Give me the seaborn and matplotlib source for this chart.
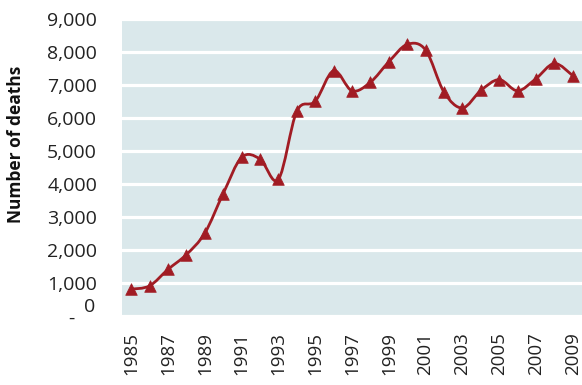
import matplotlib
matplotlib.use("Agg")
import matplotlib.pyplot as plt
from matplotlib.path import Path
from matplotlib.patches import PathPatch
import seaborn as sns
import pandas as pd

# Annual number of deaths, 1985-2009
years = list(range(1985, 2010))
deaths = [800, 900, 1400, 1850, 2500, 3700, 4800, 4750, 4130, 6200,
          6500, 7430, 6820, 7080, 7700, 8230, 8060, 6780, 6300, 6830,
          7160, 6820, 7190, 7650, 7280]
y_ticks = [0, 1000, 2000, 3000, 4000, 5000, 6000, 7000, 8000, 9000]
x_ticks = years[::2]

LINE_RED = "#A11C24"
PANEL_BG = "#DAE8EB"

sns.set_theme(style="white")
plt.rcParams["font.family"] = ["Open Sans", "DejaVu Sans"]

df = pd.DataFrame({"year": years, "deaths": deaths})

W, H = 582, 385
fig = plt.figure(figsize=(W / 100, H / 100), dpi=100)
ax = fig.add_axes([122 / W, 1 - 315.5 / H, 460 / W, (315.5 - 19) / H])
ax.set_facecolor(PANEL_BG)

# Smoothed connecting line: cubic Bezier segments (Catmull-Rom style)
xs, ys = df["year"].tolist(), df["deaths"].tolist()
n = len(xs)
verts = [(xs[0], ys[0])]
codes = [Path.MOVETO]
for i in range(n - 1):
    x0, y0 = (xs[i - 1], ys[i - 1]) if i > 0 else (xs[i], ys[i])
    x1, y1 = xs[i], ys[i]
    x2, y2 = xs[i + 1], ys[i + 1]
    x3, y3 = (xs[i + 2], ys[i + 2]) if i + 2 < n else (x2, y2)
    c1 = (x1 + (x2 - x0) / 6, y1 + (y2 - y0) / 6)
    c2 = (x2 - (x3 - x1) / 6, y2 - (y3 - y1) / 6)
    verts += [c1, c2, (x2, y2)]
    codes += [Path.CURVE4] * 3
ax.add_patch(PathPatch(Path(verts, codes), facecolor="none",
                       edgecolor=LINE_RED, lw=2.0, zorder=2,
                       capstyle="round", joinstyle="round"))

sns.scatterplot(data=df, x="year", y="deaths", marker="^", s=70,
                color=LINE_RED, edgecolor=LINE_RED, linewidth=0.5,
                zorder=3, ax=ax, legend=False)

ax.set_xlim(1984.5, 2009.5)
ax.set_ylim(0, 9000)
ax.yaxis.grid(True, color="white", lw=2.3, zorder=1)
ax.xaxis.grid(False)
ax.set_axisbelow(True)
for s in ax.spines.values():
    s.set_visible(False)

ax.set_yticks(y_ticks)
ax.set_yticklabels(["" if v == 0 else f"{v:,}" for v in y_ticks])
ax.set_xticks(x_ticks)
ax.set_xticklabels([str(y) for y in x_ticks], rotation=90)
ax.tick_params(axis="y", length=0, pad=18, labelsize=14, labelcolor="#222222")
ax.tick_params(axis="x", length=0, pad=12, labelsize=13.5, labelcolor="#222222")
ax.set_xlabel("")
ax.set_ylabel("")

# zero label with its dash placeholder
ax.annotate("0", xy=(0, 0), xycoords=("axes fraction", "data"),
            xytext=(-27, 8), textcoords="offset pixels",
            ha="right", va="center", fontsize=14, color="#222222")
ax.annotate("-", xy=(0, 0), xycoords=("axes fraction", "data"),
            xytext=(-51, -3), textcoords="offset pixels",
            ha="center", va="center", fontsize=14, color="#222222")

fig.text(16 / W, 1 - 144 / H, "Number of deaths", rotation=90,
         fontweight="bold", fontsize=12.5, ha="center", va="center",
         color="#111111")

fig.savefig("out.png", dpi=100)
